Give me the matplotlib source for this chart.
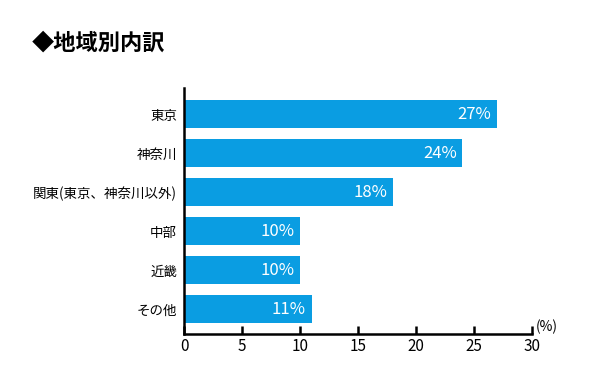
import matplotlib
matplotlib.use('Agg')
import matplotlib.pyplot as plt

plt.rcParams['font.family'] = ['Noto Sans CJK JP', 'DejaVu Sans']

regions = ['東京', '神奈川', '関東(東京、神奈川以外)', '中部', '近畿', 'その他']
shares = [27, 24, 18, 10, 10, 11]
xticks = [0, 5, 10, 15, 20, 25, 30]

fig = plt.figure(figsize=(5.9, 3.84), dpi=100)
ax = fig.add_axes([0.3119, 0.1302, 0.5898, 0.6406])

pos = list(range(len(regions)))
ax.barh(pos, shares, height=0.72, color='#0a9de2')
for p, v in zip(pos, shares):
    ax.text(v - 0.5, p, f'{v}%', color='white', ha='right', va='center', fontsize=12)

ax.set_xlim(0, 30)
ax.set_ylim(len(regions) - 0.37, -0.67)
ax.set_yticks(pos)
ax.set_yticklabels(regions, fontsize=9.7)
ax.set_xticks(xticks)
ax.set_xticklabels([str(t) for t in xticks], fontsize=11)

ax.spines['top'].set_visible(False)
ax.spines['right'].set_visible(False)
ax.spines['left'].set_linewidth(1.8)
ax.spines['bottom'].set_linewidth(1.8)
ax.tick_params(axis='y', length=0, pad=5)
ax.tick_params(axis='x', direction='in', length=6, width=1.8, pad=3)

ax.text(30.3, len(regions) - 0.37, '(%)', fontsize=10, ha='left', va='bottom')
fig.text(0.054, 0.888, '◆地域別内訳', fontsize=16, fontweight='bold', va='center', ha='left')

plt.savefig('out.png', dpi=100)
